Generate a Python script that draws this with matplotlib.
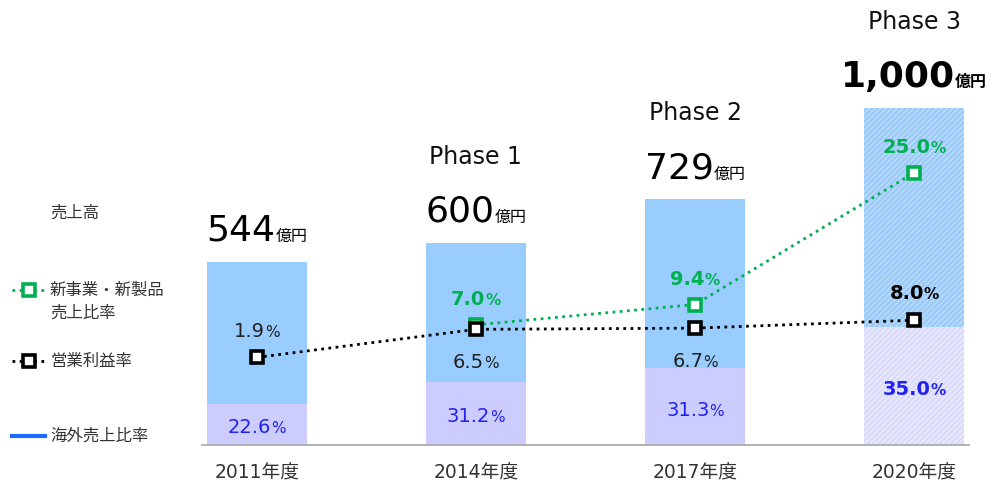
import matplotlib
matplotlib.use('Agg')
import matplotlib.pyplot as plt
from matplotlib.lines import Line2D

plt.rcParams['font.family'] = ['DejaVu Sans', 'Noto Sans CJK JP']
plt.rcParams['hatch.linewidth'] = 0.7

# data
years = ['2011年度', '2014年度', '2017年度', '2020年度']
phases = ['', 'Phase 1', 'Phase 2', 'Phase 3']
sales = [544, 600, 729, 1000]            # 億円
sales_labels = ['544', '600', '729', '1,000']
overseas = [22.6, 31.2, 31.3, 35.0]      # 海外売上比率 %
new_biz = [None, 7.0, 9.4, 25.0]         # 新事業・新製品売上比率 %
op_margin = [1.9, 6.5, 6.7, 8.0]         # 営業利益率 %

BLUE_TOP = '#99CCFF'
LAV = '#CCCCFF'
GREEN = '#00B050'
TXT_BLUE = '#2222EE'
GREY = '#333333'

W, H = 996, 491
fig = plt.figure(figsize=(W / 100, H / 100), dpi=100)
# axes placed in pixel terms: x 202..969, y baseline 445, top 20
ax = fig.add_axes([202 / W, (H - 445) / H, (969 - 202) / W, (445 - 20) / H])
renderer = fig.canvas.get_renderer()

x = list(range(len(years)))
lower = [s * o / 100 for s, o in zip(sales, overseas)]
upper = [s - l for s, l in zip(sales, lower)]

for i in x:
    plan = i == len(x) - 1
    if plan:
        ax.bar(i, lower[i], width=0.457, color='#E6E6FF', edgecolor='#D0D0F6',
               hatch='//////', linewidth=0)
        ax.bar(i, upper[i], bottom=lower[i], width=0.457, color='#9CCBFA',
               edgecolor='#C8E2FC', hatch='//////', linewidth=0)
    else:
        ax.bar(i, lower[i], width=0.457, color=LAV, linewidth=0)
        ax.bar(i, upper[i], bottom=lower[i], width=0.457, color=BLUE_TOP, linewidth=0)

ax.set_xlim(-0.25, 3.25)
ax.set_ylim(0, 425 / 0.337)
for s in ['top', 'right', 'left']:
    ax.spines[s].set_visible(False)
ax.spines['bottom'].set_color('#A6A6A6')
ax.spines['bottom'].set_linewidth(1.2)
ax.set_yticks([])
ax.set_xticks(x)
ax.set_xticklabels(years, fontsize=13.5, color=GREY)
ax.tick_params(axis='x', length=0, pad=13)


def two_part(a, xv, yv, big, small, size, small_size, color, weight='normal', dy=0):
    # big text followed by a smaller suffix, centred together on xv
    kw = dict(xycoords='data', textcoords='offset points', va='baseline',
              color=color, fontweight=weight, annotation_clip=False)
    t1 = a.annotate(big, (xv, yv), xytext=(0, dy), ha='right', fontsize=size, **kw)
    t2 = a.annotate(small, (xv, yv), xytext=(0, dy), ha='left', fontsize=small_size, **kw)
    w1 = t1.get_window_extent(renderer).width
    w2 = t2.get_window_extent(renderer).width
    off = (w1 - w2) / 2 * 72 / fig.dpi
    t1.set_position((off, dy))
    t2.set_position((off, dy))


# sales and phase labels above bars
for i in x:
    bold = 'bold' if i == 3 else 'normal'
    two_part(ax, i, sales[i], sales_labels[i], '億円', 26, 11.5, 'black', bold, dy=15)
    if phases[i]:
        ax.annotate(phases[i], (i, sales[i]), xytext=(0, 57), textcoords='offset points',
                    ha='center', va='baseline', fontsize=17, color='#111111',
                    annotation_clip=False)

# overseas ratio inside lower segment
for i in x:
    bold = 'bold' if i == 3 else 'normal'
    two_part(ax, i, lower[i] / 2, f'{overseas[i]:.1f}', '%', 14, 11, TXT_BLUE, bold, dy=-6.5)

# line axes
ax_g = ax.twinx()
ax_g.set_ylim(-61 / 8.45, 364 / 8.45)
ax_k = ax.twinx()
ax_k.set_ylim(-76 / 6.1, 349 / 6.1)
for a in (ax_g, ax_k):
    a.axis('off')

gx = [i for i in x if new_biz[i] is not None]
gy = [new_biz[i] for i in gx]
ax_g.plot(gx, gy, color=GREEN, linestyle=(0, (1, 1.6)), linewidth=2,
          marker='s', markersize=8.5, markerfacecolor='white', markeredgewidth=2.6)
ax_k.plot(x, op_margin, color='black', linestyle=(0, (1, 1.6)), linewidth=2,
          marker='s', markersize=8.5, markerfacecolor='white', markeredgewidth=2.6)

for i, v in zip(gx, gy):
    two_part(ax_g, i, v, f'{v:.1f}', '%', 14, 11, GREEN, 'bold', dy=14)

for i, v in enumerate(op_margin):
    above = i in (0, 3)
    bold = 'bold' if i == 3 else 'normal'
    two_part(ax_k, i, v, f'{v:.1f}', '%', 14, 11, 'black' if i == 3 else '#222222',
             bold, dy=15 if above else -28)


# left side legend
def fy(py):
    return 1 - py / H


def sample(py, color, ls, marker):
    ln = Line2D([12 / W, 45 / W], [fy(py), fy(py)], transform=fig.transFigure,
                color=color, linestyle=ls, linewidth=2 if marker else 3)
    fig.add_artist(ln)
    if marker:
        mk = Line2D([28.5 / W], [fy(py)], transform=fig.transFigure, marker='s',
                    markersize=8.5, markerfacecolor='white', markeredgecolor=color,
                    markeredgewidth=2.6, linestyle='none')
        fig.add_artist(mk)


tk = dict(fontsize=11.8, color=GREY, va='center', ha='left')
fig.text(50 / W, fy(213), '売上高', **tk)
sample(290, GREEN, (0, (1, 1.6)), True)
fig.text(50 / W, fy(290), '新事業・新製品', **tk)
fig.text(50 / W, fy(313), '売上比率', **tk)
sample(361, 'black', (0, (1, 1.6)), True)
fig.text(50 / W, fy(361), '営業利益率', **tk)
sample(436, '#1F6BFF', '-', False)
fig.text(50 / W, fy(436), '海外売上比率', **tk)

fig.savefig('out.png', dpi=100)
